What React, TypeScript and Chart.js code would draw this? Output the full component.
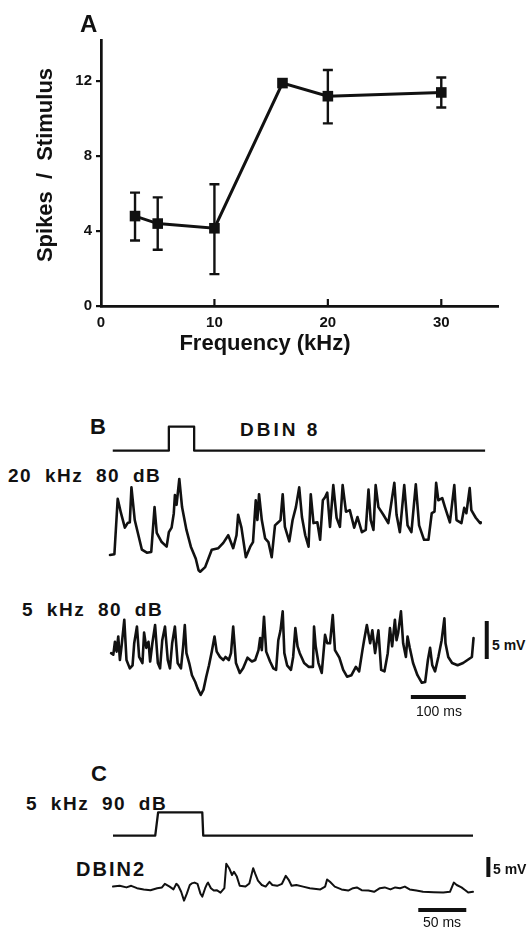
import React, { useEffect, useRef } from "react";
import { Chart, registerables } from "chart.js";

Chart.register(...registerables);

// ---------- Panel A data ----------
const frequencyKHz = [3, 5, 10, 16, 20, 30];
const spikesPerStimulus = [4.8, 4.4, 4.15, 11.9, 11.2, 11.4];
const errorLow = [3.5, 3.0, 1.7, 11.9, 9.75, 10.6];
const errorHigh = [6.05, 5.8, 6.5, 11.9, 12.6, 12.2];
const yTickValues = [0, 4, 8, 12];
const xTickValues = [0, 10, 20, 30];

// ---------- Panel B data (time ms, voltage mV relative) ----------
const stimulusB: [number, number][] = [
  [5, 0], [107, 0], [107, 1], [153, 1], [153, 0], [682, 0],
];
const trace20kHz80dB: [number, number][] = [
  [0, 0], [8, 0.1], [14, 7.4], [20, 5.5], [27, 3.6], [32, 4.2], [36, 4.3], [39, 8.9],
  [45, 4.6], [58, 0.7], [67, 0.3], [75, 0.4], [81, 6.3], [85, 2.9], [94, 1.7], [103, 1.1],
  [107, 3.0], [112, 3.6], [116, 5.5], [118, 7.9], [121, 6.6], [126, 10.0], [131, 6.3],
  [139, 3.3], [147, 1.1], [156, -0.5], [161, -2.0], [164, -2.2], [173, -1.6], [185, 0.7],
  [197, 0.9], [206, 1.6], [215, 2.6], [224, 0.9], [230, 2.6], [233, 5.3], [239, 3.6],
  [247, -0.3], [255, 1.1], [260, 1.7], [265, 7.2], [268, 4.6], [271, 8.0], [276, 4.6],
  [282, 2.2], [288, 1.7], [294, -0.3], [300, 3.9], [306, 4.3], [310, 4.6], [314, 8.0],
  [318, 3.7], [326, 1.8], [332, 4.6], [338, 6.3], [344, 8.9], [349, 5.0], [355, 2.6],
  [361, 1.1], [365, 8.0], [370, 4.2], [377, 4.3], [382, 2.0], [387, 7.2], [391, 7.6],
  [395, 8.2], [400, 3.7], [406, 9.2], [412, 4.9], [418, 3.7], [423, 9.2], [429, 5.7],
  [436, 5.9], [444, 3.6], [450, 5.0], [458, 3.0], [465, 3.3], [470, 8.6], [474, 4.6],
  [479, 3.3], [483, 9.2], [488, 6.3], [497, 5.3], [506, 4.2], [517, 9.5], [521, 5.3],
  [527, 3.0], [535, 9.2], [541, 3.9], [548, 3.0], [556, 9.3], [562, 3.9], [571, 2.0],
  [579, 2.0], [585, 5.5], [590, 5.7], [593, 9.5], [597, 7.2], [604, 7.5], [609, 6.3],
  [618, 4.3], [626, 9.2], [630, 4.6], [639, 4.2], [644, 6.2], [648, 5.5], [654, 8.8],
  [657, 5.9], [665, 4.9], [673, 4.2], [674, 4.3],
];
const trace5kHz80dB: [number, number][] = [
  [2, 0.9], [6, 0.7], [9, 2.4], [12, 1.1], [15, 3.1], [18, 0], [21, 1.8], [26, 5.3],
  [30, 0], [36, -1.1], [41, -0.7], [44, 2.2], [49, 4.4], [53, 0.4], [59, -0.4], [62, 3.6],
  [66, 1.6], [70, 2.4], [73, -0.2], [77, 2.2], [82, 4.6], [87, -0.4], [91, -1.1], [95, 2.6],
  [100, 4.4], [105, 0], [109, -1.1], [113, 2.2], [118, 4.4], [123, -0.4], [129, -1.1],
  [133, 1.8], [136, 4.6], [139, 0.9], [144, -0.4], [149, -2.0], [155, -2.9], [159, -3.7],
  [165, -4.6], [170, -3.9], [175, -2.2], [180, -0.7], [185, 1.1], [190, 3.1], [194, 1.1],
  [200, 0.4], [206, 0], [210, 0.4], [216, 0], [220, 0.9], [224, 4.4], [229, -0.4],
  [236, -1.7], [242, -1.1], [250, 0.3], [258, -0.2], [264, 0], [270, 1.3], [273, 2.9],
  [276, 1.3], [280, 5.7], [284, 1.1], [291, -0.2], [297, -1.1], [302, -1.3], [306, 2.6],
  [310, 3.9], [314, 6.4], [317, 0.9], [322, -0.7], [329, -1.3], [333, 0.4], [337, 4.2],
  [341, 1.8], [345, 0.9], [353, -0.4], [361, -0.9], [369, -0.9], [371, 4.4], [374, 1.8],
  [379, -0.4], [385, -1.7], [391, 3.3], [395, 2.2], [400, 2.2], [405, 5.9], [409, 1.3],
  [417, 0.3], [424, -1.3], [431, -2.2], [439, -2.0], [447, -0.9], [453, -1.5], [459, 1.3],
  [462, 2.6], [467, 4.6], [473, 2.2], [477, 3.9], [482, 0.9], [488, 3.9], [493, -1.3],
  [499, -1.5], [505, 0.9], [509, 4.2], [513, 1.8], [518, 5.3], [521, 2.6], [524, 3.6],
  [529, 6.4], [533, 2.2], [538, 0.4], [541, 3.1], [545, 1.6], [551, -0.4], [559, -2.0],
  [567, -3.0], [573, -2.9], [578, 0], [582, 1.6], [586, -0.7], [591, -1.5], [597, 0.4],
  [603, 2.6], [608, 5.5], [610, 2.2], [615, 0.4], [622, -0.4], [632, -0.7], [642, -0.4],
  [658, 0.4], [661, 2.9],
];
const scaleBarB = { t: 685, v0: 0.13, mV: 5, ms: 100, msStart: 547, msLevel: -4.87 };

// ---------- Panel C data ----------
const stimulusC: [number, number][] = [
  [0, 0], [44, 0], [47, 1], [93, 1], [94, 0], [375, 0],
];
const traceDBIN2: [number, number][] = [
  [0, 0.1], [7, 0.3], [14, -0.1], [19, 0.3], [25, -0.3], [32, -0.6], [39, -0.8], [46, -0.3],
  [51, -0.1], [54, 0.8], [59, 0.1], [63, -0.6], [66, 0.8], [68, 0.3], [71, -1.2], [74, -3.4],
  [77, -1.6], [80, 0.5], [82, 0.9], [85, 1.1], [88, 0.8], [91, -1.6], [93, -2.4], [96, -0.3],
  [98, 0.8], [99, 1.1], [102, -0.3], [105, -0.9], [108, -0.8], [112, -1.4], [116, -0.3],
  [118, 5.8], [121, 4.7], [124, 3.0], [126, 3.8], [129, 2.6], [132, 0.3], [138, 0.1],
  [142, 0.9], [146, 4.7], [148, 3.4], [151, 1.6], [155, 0.5], [159, 0.1], [163, 1.3],
  [166, 0.5], [171, 0.3], [176, 0.8], [180, 2.8], [183, 1.8], [186, 0.3], [191, 0.5],
  [198, 0.1], [205, -0.3], [216, -0.6], [221, 0.1], [223, 1.9], [226, 1.3], [231, 0.1],
  [238, -0.6], [245, -0.9], [250, -0.3], [254, -0.1], [259, -0.8], [266, -0.9], [272, -1.2],
  [278, -0.3], [283, -0.1], [289, -0.6], [294, -0.1], [299, -0.3], [304, 0.1], [309, -0.6],
  [316, -0.9], [323, -1.2], [334, -1.3], [344, -1.4], [351, -1.2], [355, 1.1], [358, 0.5],
  [363, -0.1], [367, -0.8], [370, -1.4], [375, -1.2],
];
const scaleBarC = { t: 391, v0: 2.5, mV: 5, ms: 50, msStart: 318, msLevel: -5.75 };

const FONT = "'Liberation Sans', Arial, Helvetica, sans-serif";
const INK = "#111";

const toXY = (pts: [number, number][]) => pts.map(([x, y]) => ({ x, y }));

function lineSet(pts: [number, number][], width = 2.6, cap: CanvasLineCap = "round") {
  return {
    data: toXY(pts),
    borderColor: INK,
    borderWidth: width,
    pointRadius: 0,
    tension: 0,
    borderJoinStyle: "round" as CanvasLineJoin,
    borderCapStyle: cap,
    fill: false,
  };
}

function scaleBarSets(bar: { t: number; v0: number; mV: number; ms: number; msStart: number; msLevel: number }) {
  return [
    lineSet([[bar.t, bar.v0], [bar.t, bar.v0 + bar.mV]], 4, "butt"),
    lineSet([[bar.msStart, bar.msLevel], [bar.msStart + bar.ms, bar.msLevel]], 4.2, "butt"),
  ];
}

type TraceProps = {
  left: number; top: number; width: number; height: number;
  datasets: any[]; xMin: number; xMax: number; yMin: number; yMax: number;
};

function TraceCanvas({ left, top, width, height, datasets, xMin, xMax, yMin, yMax }: TraceProps) {
  const ref = useRef<HTMLCanvasElement>(null);
  useEffect(() => {
    const chart = new Chart(ref.current!, {
      type: "line",
      data: { datasets },
      options: {
        animation: false,
        responsive: false,
        maintainAspectRatio: false,
        events: [],
        layout: { padding: 0 },
        plugins: { legend: { display: false }, tooltip: { enabled: false } },
        scales: {
          x: { type: "linear", display: false, min: xMin, max: xMax },
          y: { type: "linear", display: false, min: yMin, max: yMax },
        },
      },
    } as any);
    return () => chart.destroy();
  }, []);
  return (
    <canvas
      ref={ref}
      width={width}
      height={height}
      style={{ position: "absolute", left, top, width, height }}
    />
  );
}

function PanelA() {
  const ref = useRef<HTMLCanvasElement>(null);
  useEffect(() => {
    const errorBars = {
      id: "errorBars",
      beforeDatasetsDraw(chart: any) {
        const { ctx, scales } = chart;
        const x = scales.x, y = scales.y;
        ctx.save();
        ctx.strokeStyle = INK;
        ctx.lineWidth = 2.4;
        frequencyKHz.forEach((f, i) => {
          if (errorHigh[i] - errorLow[i] < 0.01) return;
          const px = x.getPixelForValue(f);
          const pt = y.getPixelForValue(errorHigh[i]);
          const pb = y.getPixelForValue(errorLow[i]);
          ctx.beginPath();
          ctx.moveTo(px, pt); ctx.lineTo(px, pb);
          ctx.moveTo(px - 5, pt); ctx.lineTo(px + 5, pt);
          ctx.moveTo(px - 5, pb); ctx.lineTo(px + 5, pb);
          ctx.stroke();
        });
        // inward x ticks
        ctx.lineWidth = 2.2;
        xTickValues.slice(1).forEach((v) => {
          const px = x.getPixelForValue(v);
          ctx.beginPath();
          ctx.moveTo(px, chart.chartArea.bottom);
          ctx.lineTo(px, chart.chartArea.bottom - 7);
          ctx.stroke();
        });
        ctx.restore();
      },
    };
    const chart = new Chart(ref.current!, {
      type: "line",
      data: {
        datasets: [
          {
            data: frequencyKHz.map((f, i) => ({ x: f, y: spikesPerStimulus[i] })),
            borderColor: INK,
            borderWidth: 3,
            pointStyle: "rect",
            pointRadius: 7.5,
            pointBackgroundColor: INK,
            pointBorderColor: INK,
            pointBorderWidth: 0,
            tension: 0,
          },
        ],
      },
      options: {
        animation: false,
        responsive: false,
        maintainAspectRatio: false,
        events: [],
        layout: { padding: { left: 61, top: 40, right: 34, bottom: 24 } },
        plugins: { legend: { display: false }, tooltip: { enabled: false } },
        scales: {
          x: {
            type: "linear",
            min: 0,
            max: 35,
            afterFit: (s: any) => { s.height = 30; },
            afterBuildTicks: (s: any) => { s.ticks = xTickValues.map((v) => ({ value: v })); },
            ticks: { font: { family: FONT, size: 15, weight: "bold" }, color: INK, padding: 8, includeBounds: false },
            grid: { display: false, drawTicks: false },
            border: { display: true, width: 2.7, color: INK },
          },
          y: {
            type: "linear",
            min: 0,
            max: 14.2,
            afterFit: (s: any) => { s.width = 40; },
            afterBuildTicks: (s: any) => { s.ticks = yTickValues.map((v) => ({ value: v })); },
            ticks: { font: { family: FONT, size: 15, weight: "bold" }, color: INK, padding: 4, includeBounds: false },
            grid: { drawOnChartArea: false, drawTicks: true, tickLength: 5, lineWidth: 2.2, color: INK },
            border: { display: true, width: 2.7, color: INK },
          },
        },
      },
      plugins: [errorBars],
    } as any);
    return () => chart.destroy();
  }, []);
  return (
    <canvas ref={ref} width={532} height={360} style={{ position: "absolute", left: 0, top: 0, width: 532, height: 360 }} />
  );
}

type LabelProps = {
  text: string; x: number; y: number; size: number; bold?: boolean;
  ls?: number; ws?: number; center?: boolean;
};

function Label({ text, x, y, size, bold = true, ls = 0, ws = 0, center = false }: LabelProps) {
  return (
    <div
      style={{
        position: "absolute",
        left: x,
        top: y - 0.85 * size,
        fontFamily: FONT,
        fontSize: size,
        fontWeight: bold ? 700 : 400,
        lineHeight: `${size}px`,
        letterSpacing: ls,
        wordSpacing: ws,
        color: INK,
        whiteSpace: "pre",
        transform: center ? "translateX(-50%)" : undefined,
      }}
    >
      {text}
    </div>
  );
}

export default function App() {
  const MS_B = 700 / 385; // ms per px in panel B
  const MS_C = 50 / 48; // ms per px in panel C
  return (
    <div style={{ position: "absolute", left: 0, top: 0, width: 532, height: 929, background: "#fff", overflow: "hidden" }}>
      <PanelA />
      <Label text="A" x={80} y={32} size={24} />
      <div
        style={{
          position: "absolute",
          left: 45 - 130,
          top: 165 - 11,
          width: 260,
          textAlign: "center",
          fontFamily: FONT,
          fontSize: 22,
          fontWeight: 700,
          lineHeight: "22px",
          wordSpacing: 6,
          color: INK,
          whiteSpace: "pre",
          transform: "rotate(-90deg)",
          transformOrigin: "50% 50%",
        }}
      >
        {"Spikes / Stimulus"}
      </div>
      <Label text="Frequency (kHz)" x={265} y={351} size={22} center />

      {/* Panel B */}
      <Label text="B" x={90} y={435} size={22} />
      <Label text="DBIN 8" x={240} y={436} size={19} ls={3} />
      <TraceCanvas
        left={105} top={420} width={385} height={38}
        datasets={[lineSet(stimulusB, 2.3, "butt")]}
        xMin={-5 * MS_B} xMax={380 * MS_B} yMin={-7.3 / 24} yMax={30.7 / 24}
      />
      <Label text="20 kHz 80 dB" x={8} y={482} size={19} ls={1.5} ws={6} />
      <TraceCanvas
        left={105} top={472} width={385} height={110}
        datasets={[lineSet(trace20kHz80dB)]}
        xMin={-5 * MS_B} xMax={380 * MS_B} yMin={-27 / 7.6} yMax={83 / 7.6}
      />
      <Label text="5 kHz 80 dB" x={22} y={616} size={19} ls={1.5} ws={6} />
      <TraceCanvas
        left={105} top={602} width={385} height={104}
        datasets={[lineSet(trace5kHz80dB), ...scaleBarSets(scaleBarB)]}
        xMin={-5 * MS_B} xMax={380 * MS_B} yMin={-46 / 7.6} yMax={58 / 7.6}
      />
      <Label text="5 mV" x={492} y={650} size={14} />
      <Label text="100 ms" x={439} y={716} size={14} bold={false} center />

      {/* Panel C */}
      <Label text="C" x={91} y={782} size={22} />
      <Label text="5 kHz 90 dB" x={26} y={810} size={19} ls={1.5} ws={6} />
      <TraceCanvas
        left={108} top={806} width={370} height={36}
        datasets={[lineSet(stimulusC, 2.3, "butt")]}
        xMin={-5 * MS_C} xMax={365 * MS_C} yMin={-6 / 22} yMax={28 / 22}
      />
      <Label text="DBIN2" x={76} y={876} size={20} ls={2} />
      <TraceCanvas
        left={108} top={852} width={386} height={62}
        datasets={[lineSet(traceDBIN2, 2.0), ...scaleBarSets(scaleBarC)]}
        xMin={-5 * MS_C} xMax={381 * MS_C} yMin={-27 / 4} yMax={35 / 4}
      />
      <Label text="5 mV" x={493} y={874} size={14} />
      <Label text="50 ms" x={442} y={927} size={14} bold={false} center />
    </div>
  );
}
